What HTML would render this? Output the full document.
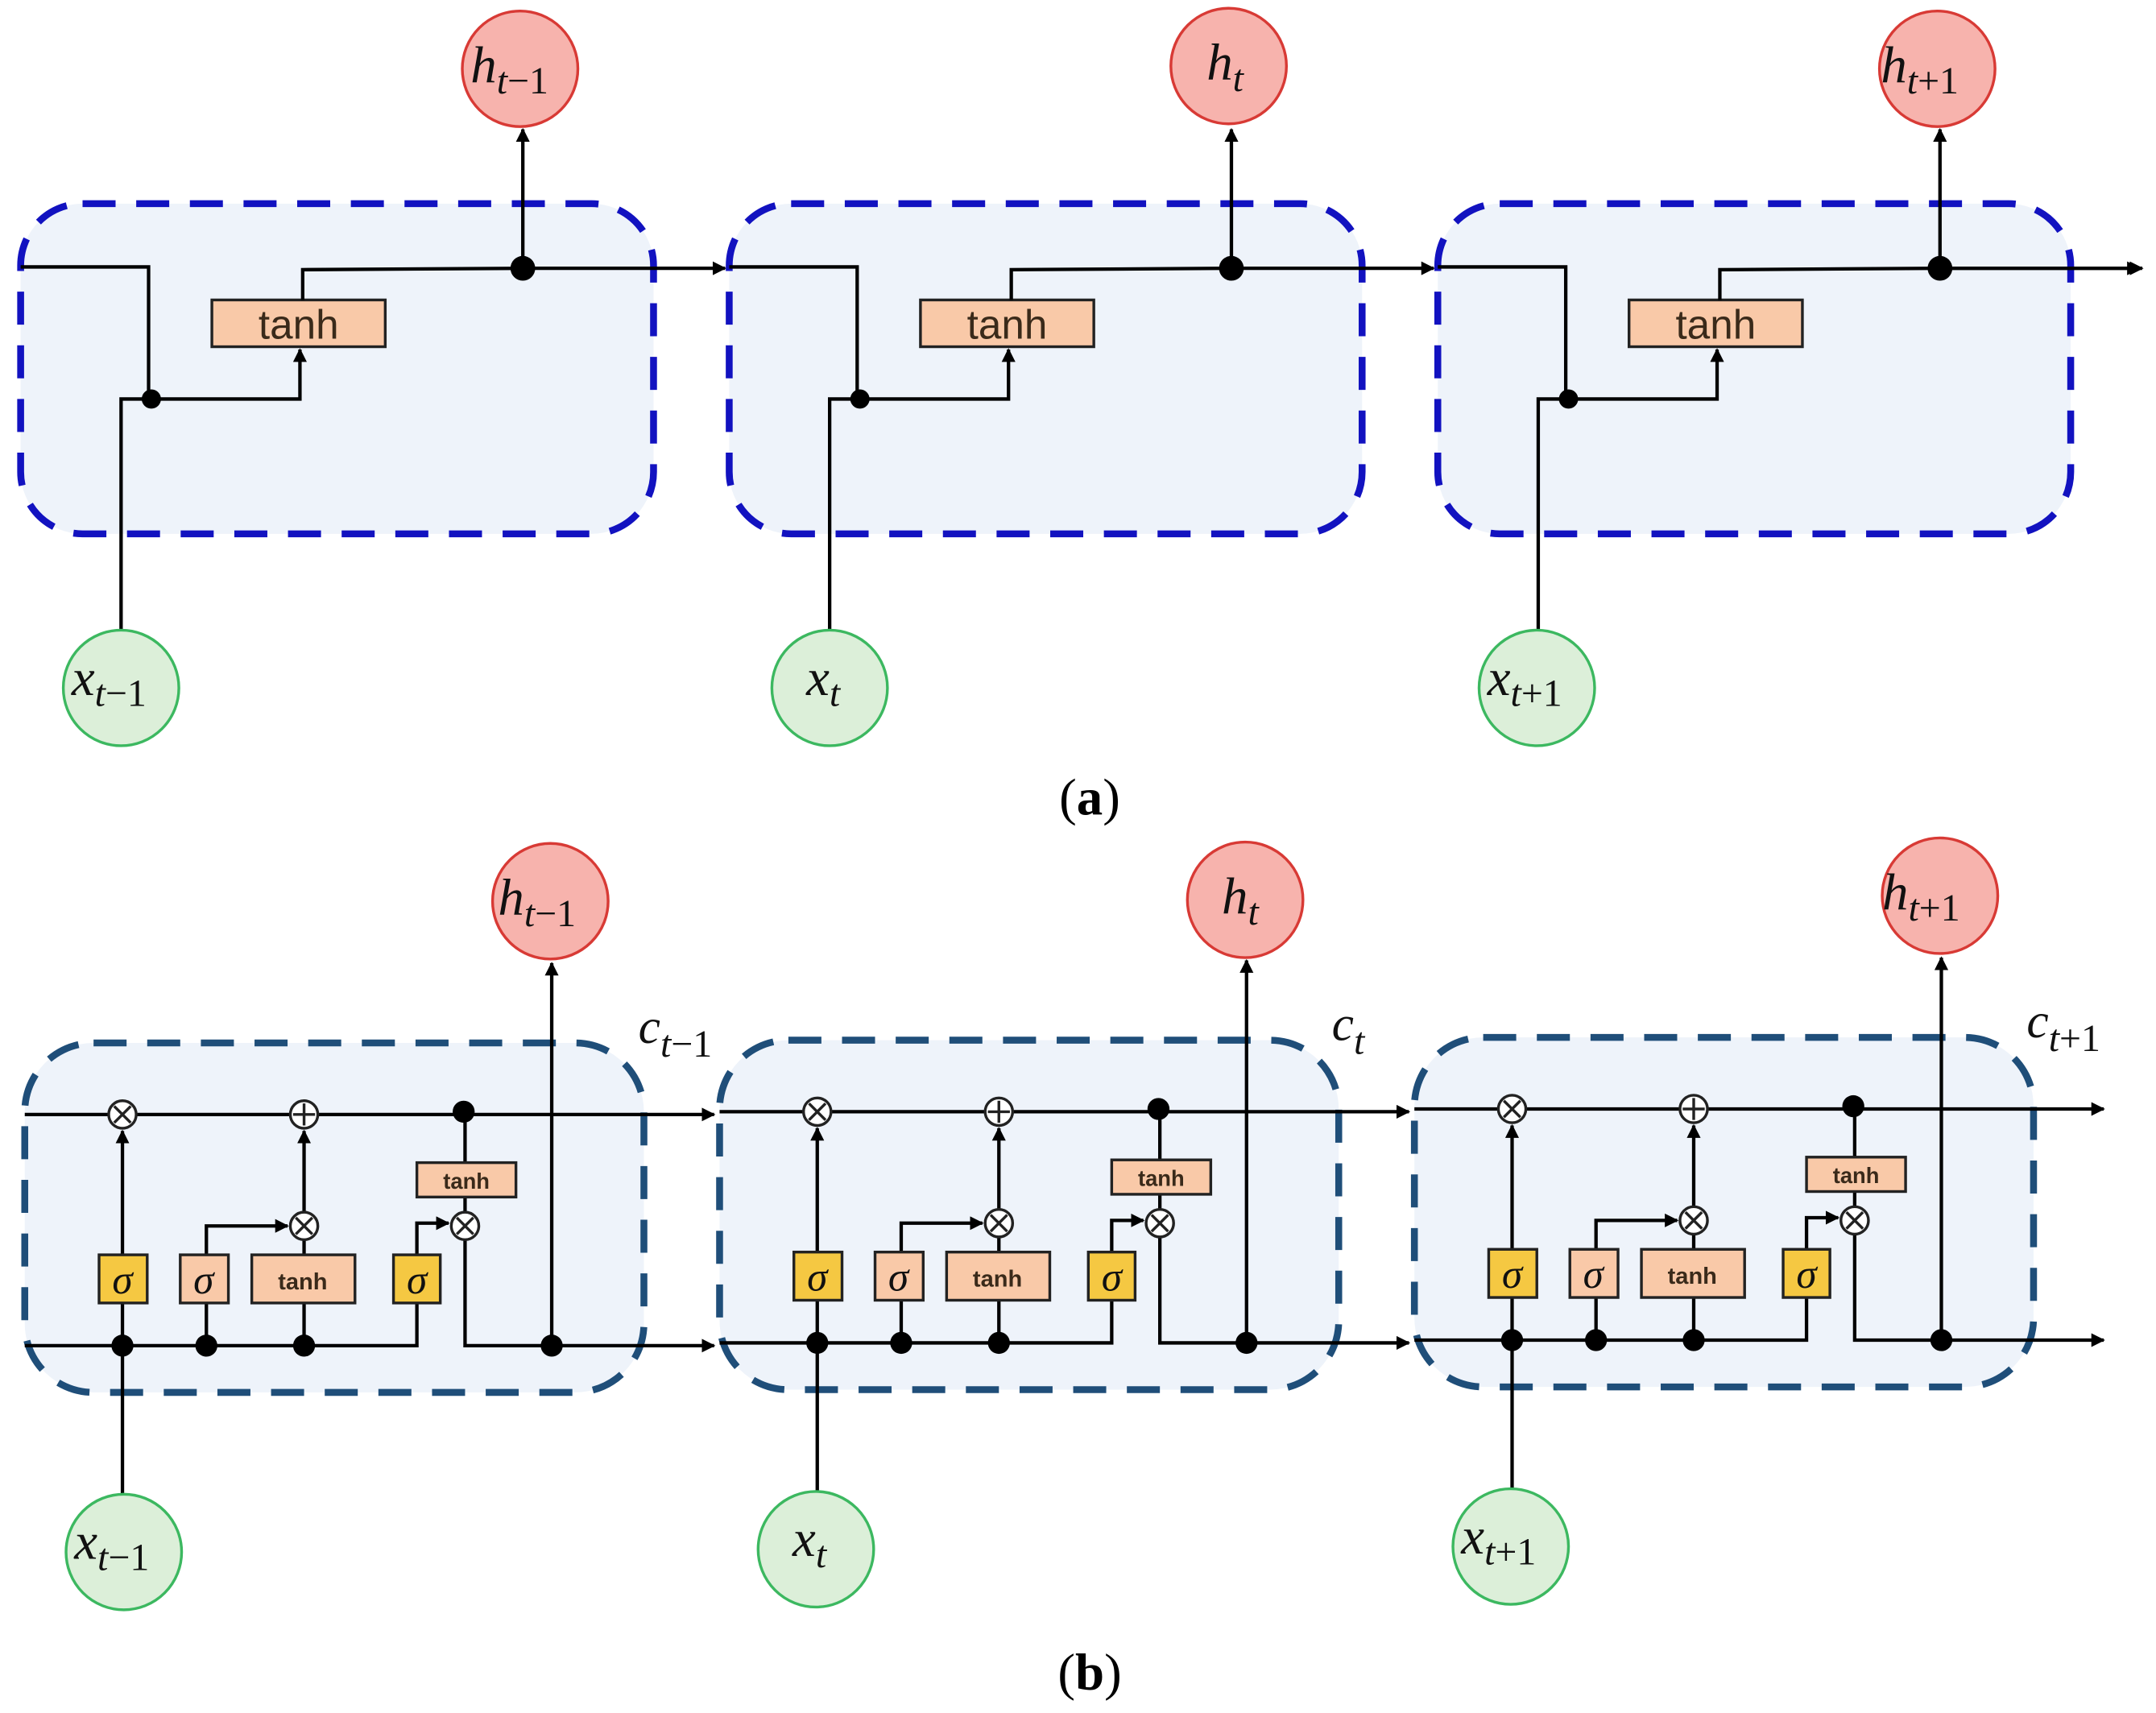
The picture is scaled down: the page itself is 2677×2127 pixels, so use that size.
<!DOCTYPE html>
<html><head><meta charset="utf-8"><style>
html,body{margin:0;padding:0;background:#fff;}
svg{display:block;}
.m{font-family:"Liberation Serif",serif;font-style:italic;fill:#111;}
.n{font-style:normal;}
.s{font-family:"Liberation Sans",sans-serif;fill:#3a2a1a;}
</style></head><body>
<svg width="2677" height="2127" viewBox="0 0 1567 1245" preserveAspectRatio="none" xmlns="http://www.w3.org/2000/svg">
<defs>
<marker id="ar" viewBox="0 0 10 10" refX="9" refY="5" markerWidth="4" markerHeight="4" orient="auto" markerUnits="strokeWidth"><path d="M0,0 L10,5 L0,10 z" fill="#000"/></marker>
<g id="ca">
 <rect x="15" y="148" width="460" height="240" rx="45" fill="#eef3fa" stroke="#1212c0" stroke-width="5" stroke-dasharray="24,15"/>
 <polyline points="15,194 108,194 108,290" fill="none" stroke="#000" stroke-width="2.5"/>
 <polyline points="88,458 88,290 218,290 218,254" fill="none" stroke="#000" stroke-width="2.5" marker-end="url(#ar)"/>
 <circle cx="110" cy="290" r="7" fill="#000"/>
 <rect x="154" y="218" width="126" height="34" fill="#f9c9a8" stroke="#222" stroke-width="2"/>
 <text x="217" y="246" text-anchor="middle" font-size="30" class="s">tanh</text>
 <polyline points="220,218 220,196 380,195 527,195" fill="none" stroke="#000" stroke-width="2.5" marker-end="url(#ar)"/>
 <line x1="380" y1="195" x2="380" y2="94" stroke="#000" stroke-width="2.5" marker-end="url(#ar)"/>
 <circle cx="380" cy="195" r="9" fill="#000"/>
</g>
<g id="cb">
 <rect x="18" y="758" width="450" height="254" rx="50" fill="#eef3fa" stroke="#1f4e79" stroke-width="5" stroke-dasharray="24,15"/>
 <line x1="18" y1="810" x2="519" y2="810" stroke="#000" stroke-width="2.5" marker-end="url(#ar)"/>
 <polyline points="18,978 303,978 303,947" fill="none" stroke="#000" stroke-width="2.5"/>
 <polyline points="338,901 338,978 519,978" fill="none" stroke="#000" stroke-width="2.5" marker-end="url(#ar)"/>
 <line x1="89" y1="1086" x2="89" y2="947" stroke="#000" stroke-width="2.5"/>
 <line x1="89" y1="912" x2="89" y2="822" stroke="#000" stroke-width="2.5" marker-end="url(#ar)"/>
 <line x1="150" y1="978" x2="150" y2="947" stroke="#000" stroke-width="2.5"/>
 <polyline points="150,912 150,891 209,891" fill="none" stroke="#000" stroke-width="2.5" marker-end="url(#ar)"/>
 <line x1="221" y1="978" x2="221" y2="947" stroke="#000" stroke-width="2.5"/>
 <line x1="221" y1="912" x2="221" y2="901"  stroke="#000" stroke-width="2.5"/>
 <line x1="221" y1="881" x2="221" y2="822" stroke="#000" stroke-width="2.5" marker-end="url(#ar)"/>
 <polyline points="303,912 303,889 326,889" fill="none" stroke="#000" stroke-width="2.5" marker-end="url(#ar)"/>
 <line x1="338" y1="810" x2="338" y2="881" stroke="#000" stroke-width="2.5"/>
 <line x1="401" y1="978" x2="401" y2="700" stroke="#000" stroke-width="2.5" marker-end="url(#ar)"/>
 <g fill="#fff" stroke="#222" stroke-width="2">
  <circle cx="89" cy="810" r="10"/><circle cx="221" cy="810" r="10"/>
  <circle cx="221" cy="891" r="10"/><circle cx="338" cy="891" r="10"/>
 </g>
 <g stroke="#222" stroke-width="2">
  <path d="M83,804 L95,816 M95,804 L83,816"/><path d="M215,885 L227,897 M227,885 L215,897"/><path d="M332,885 L344,897 M344,885 L332,897"/>
  <path d="M221,802 L221,818 M213,810 L229,810"/>
 </g>
 <g fill="#000"><circle cx="89" cy="978" r="8"/><circle cx="150" cy="978" r="8"/><circle cx="221" cy="978" r="8"/><circle cx="401" cy="978" r="8"/><circle cx="337" cy="808" r="8"/></g>
 <rect x="303" y="845" width="72" height="25" fill="#f9c9a8" stroke="#222" stroke-width="2"/>
 <text x="339" y="864" text-anchor="middle" font-size="16" font-weight="bold" class="s">tanh</text>
 <rect x="72" y="912" width="35" height="35" fill="#f5c842" stroke="#222" stroke-width="2"/>
 <rect x="131" y="912" width="35" height="35" fill="#f9c9a8" stroke="#222" stroke-width="2"/>
 <rect x="183" y="912" width="75" height="35" fill="#f9c9a8" stroke="#222" stroke-width="2"/>
 <rect x="286" y="912" width="34" height="35" fill="#f5c842" stroke="#222" stroke-width="2"/>
 <text x="89" y="940" text-anchor="middle" font-size="30" class="m">σ</text>
 <text x="148" y="940" text-anchor="middle" font-size="30" class="m">σ</text>
 <text x="303" y="940" text-anchor="middle" font-size="30" class="m">σ</text>
 <text x="220" y="937" text-anchor="middle" font-size="17" font-weight="bold" class="s">tanh</text>
</g>
</defs>

<!-- panel a -->
<use href="#ca"/>
<use href="#ca" transform="translate(515,0)"/>
<use href="#ca" transform="translate(1030,0)"/>
<line x1="1410" y1="195" x2="1555" y2="195" stroke="#000" stroke-width="2.5" marker-end="url(#ar)"/>
<g fill="#f7b3ad" stroke="#d83a35" stroke-width="2">
 <circle cx="378" cy="50" r="42"/><circle cx="893" cy="48" r="42"/><circle cx="1408" cy="50" r="42"/>
</g>
<g fill="#dcefd9" stroke="#3cb860" stroke-width="2">
 <circle cx="88" cy="500" r="42"/><circle cx="603" cy="500" r="42"/><circle cx="1117" cy="500" r="42"/>
</g>
<text x="342" y="60" font-size="38" class="m">h<tspan font-size="28" dy="8">t<tspan class="n">−1</tspan></tspan></text>
<text x="877" y="58" font-size="38" class="m">h<tspan font-size="28" dy="8">t</tspan></text>
<text x="1367" y="60" font-size="38" class="m">h<tspan font-size="28" dy="8">t<tspan class="n">+1</tspan></tspan></text>
<text x="52" y="505" font-size="38" class="m">x<tspan font-size="28" dy="8">t<tspan class="n">−1</tspan></tspan></text>
<text x="586" y="505" font-size="38" class="m">x<tspan font-size="28" dy="8">t</tspan></text>
<text x="1081" y="505" font-size="38" class="m">x<tspan font-size="28" dy="8">t<tspan class="n">+1</tspan></tspan></text>
<text x="792" y="592" text-anchor="middle" font-size="38" font-family="Liberation Serif, serif">(<tspan font-weight="bold">a</tspan>)</text>

<!-- panel b -->
<use href="#cb"/>
<use href="#cb" transform="translate(505,-2)"/>
<use href="#cb" transform="translate(1010,-4)"/>
<g fill="#f7b3ad" stroke="#d83a35" stroke-width="2">
 <circle cx="400" cy="655" r="42"/><circle cx="905" cy="654" r="42"/><circle cx="1410" cy="651" r="42"/>
</g>
<g fill="#dcefd9" stroke="#3cb860" stroke-width="2">
 <circle cx="90" cy="1128" r="42"/><circle cx="593" cy="1126" r="42"/><circle cx="1098" cy="1124" r="42"/>
</g>
<text x="362" y="665" font-size="38" class="m">h<tspan font-size="28" dy="8">t<tspan class="n">−1</tspan></tspan></text>
<text x="888" y="664" font-size="38" class="m">h<tspan font-size="28" dy="8">t</tspan></text>
<text x="1368" y="661" font-size="38" class="m">h<tspan font-size="28" dy="8">t<tspan class="n">+1</tspan></tspan></text>
<text x="54" y="1133" font-size="38" class="m">x<tspan font-size="28" dy="8">t<tspan class="n">−1</tspan></tspan></text>
<text x="576" y="1131" font-size="38" class="m">x<tspan font-size="28" dy="8">t</tspan></text>
<text x="1062" y="1129" font-size="38" class="m">x<tspan font-size="28" dy="8">t<tspan class="n">+1</tspan></tspan></text>
<text x="464" y="758" font-size="36" class="m">c<tspan font-size="28" dy="10">t<tspan class="n">−1</tspan></tspan></text>
<text x="968" y="756" font-size="36" class="m">c<tspan font-size="28" dy="10">t</tspan></text>
<text x="1473" y="754" font-size="36" class="m">c<tspan font-size="28" dy="10">t<tspan class="n">+1</tspan></tspan></text>
<text x="792" y="1228" text-anchor="middle" font-size="38" font-family="Liberation Serif, serif">(<tspan font-weight="bold">b</tspan>)</text>
</svg>
</body></html>
